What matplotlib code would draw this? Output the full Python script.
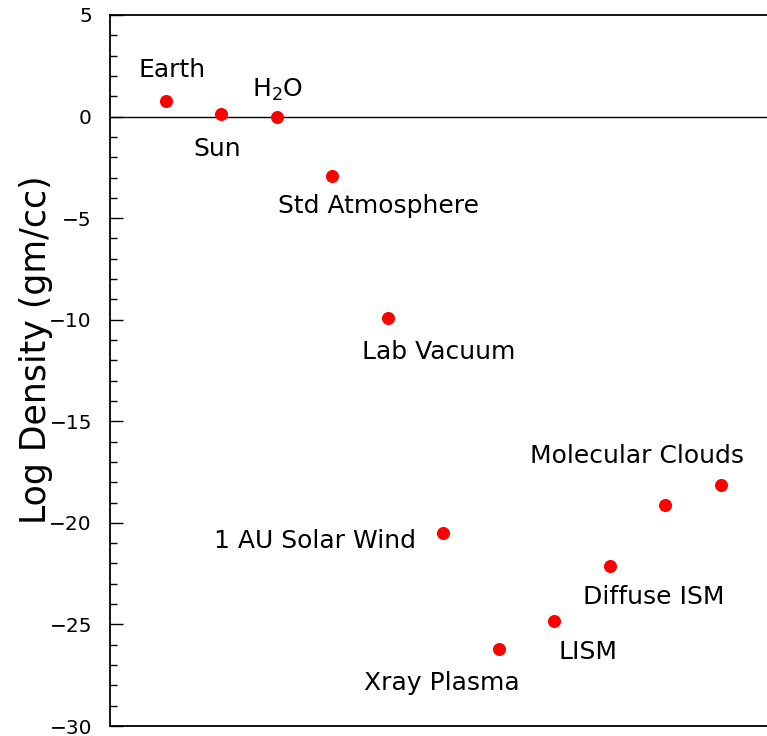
import matplotlib
matplotlib.use('Agg')
import matplotlib.pyplot as plt
from matplotlib.ticker import MultipleLocator

# density of things, log10 (g/cc), one point per object
objects = ['Earth', 'Sun', 'H$_2$O', 'Std Atmosphere', 'Lab Vacuum',
           '1 AU Solar Wind', 'Xray Plasma', 'LISM', 'Diffuse ISM',
           'Molecular Clouds', '']
log_density = [0.76, 0.15, 0.0, -2.92, -9.90, -20.52, -26.23, -24.83,
               -22.14, -19.12, -18.12]
x = list(range(1, len(objects) + 1))

# label placement relative to the point, in pixels (dx, dy down, ha)
label_offsets = [(7, 24, 'center'), (-4, -42, 'center'), (1, 20, 'center'),
                 (47, -37, 'center'), (51, -41, 'center'), (-27, -15, 'right'),
                 (-57, -41, 'center'), (34, -38, 'center'), (44, -38, 'center'),
                 (-28, 42, 'center'), (0, 0, 'center')]

fig = plt.figure(figsize=(7.67, 7.36), dpi=100)
ax = fig.add_axes([110 / 767, 10 / 736, 666 / 767, 711 / 736])

ax.axhline(0, color='black', lw=1.0, zorder=1)
ax.plot(x, log_density, 'o', color='red', ms=9.4, mec='none', zorder=3)

for xi, yi, name, (dx, dy, ha) in zip(x, log_density, objects, label_offsets):
    if name:
        ax.annotate(name, (xi, yi), xytext=(dx, dy), textcoords='offset pixels',
                    ha=ha, va='baseline', fontsize=18)

ax.set_xlim(0, 12)
ax.set_ylim(-30, 5)
ax.set_xticks([])
ax.yaxis.set_major_locator(MultipleLocator(5))
ax.yaxis.set_minor_locator(MultipleLocator(1))
ax.tick_params(axis='y', which='major', direction='in', length=9.5, width=1,
               labelsize=14.5, pad=13)
ax.tick_params(axis='y', which='minor', direction='in', length=5, width=1)
for s in ax.spines.values():
    s.set_linewidth(1.3)

fig.text(36 / 767, 1 - 350 / 736, 'Log Density (gm/cc)', rotation=90,
         ha='center', va='center', fontsize=25)

fig.savefig('out.png', dpi=100)
